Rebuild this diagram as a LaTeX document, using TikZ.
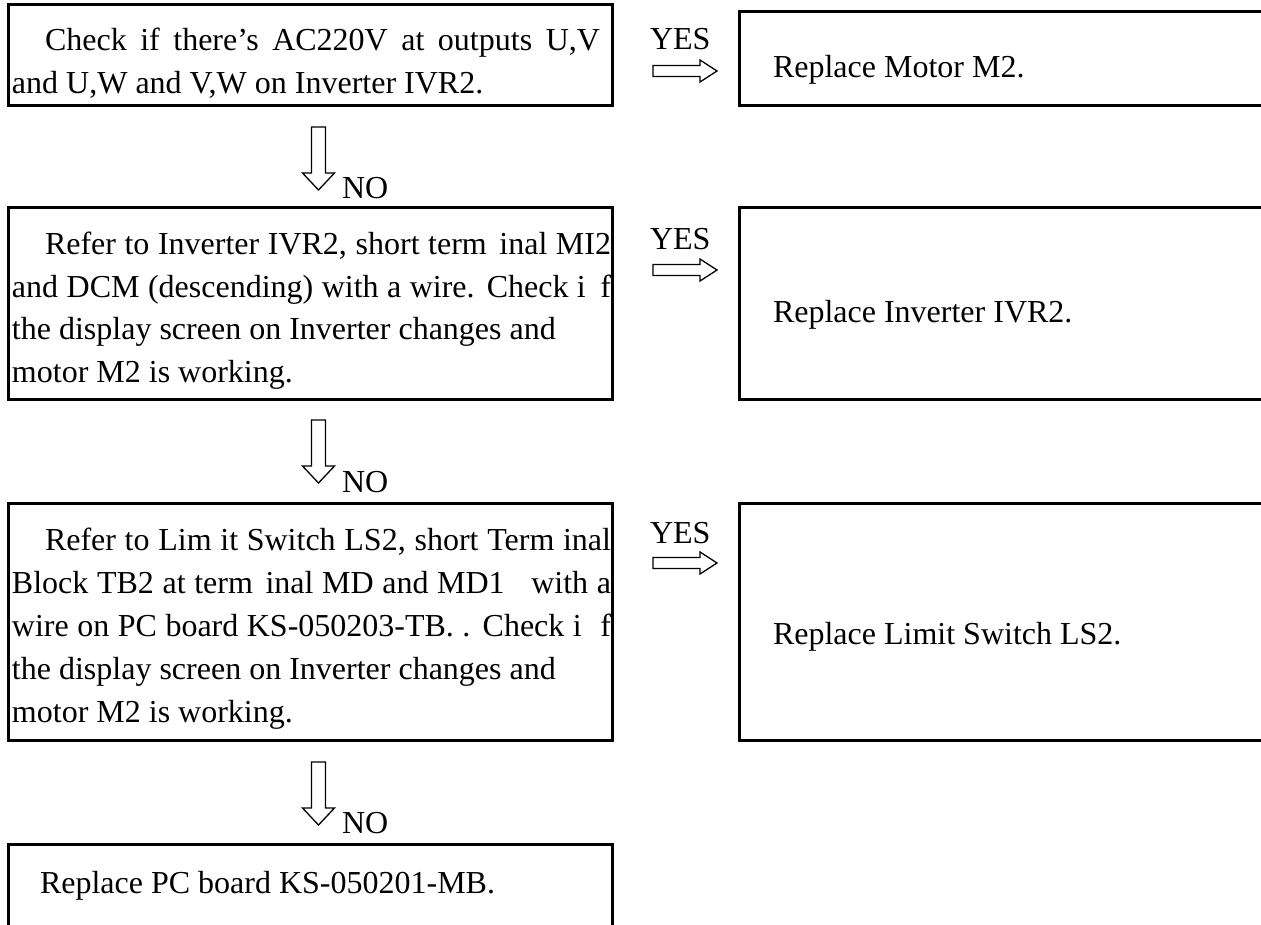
\documentclass[tikz,border=0pt]{standalone}
\usepackage{fontspec}
\setmainfont{Liberation Serif}
\begin{document}
\begin{tikzpicture}[x=1pt,y=-1pt,
  box/.style={draw, line width=3pt, inner sep=0pt, outer sep=0pt, anchor=north west},
  txt/.style={inner sep=0pt, outer sep=0pt, anchor=base west, font=\fontsize{32pt}{40pt}\selectfont},
  hollow/.style={draw, line width=1.3pt, fill=white, line join=miter}]
\useasboundingbox (0,0) rectangle (1261,925);
\clip (0,0) rectangle (1261,925);

% ---------- left column boxes ----------
\node[box, minimum width=604pt, minimum height=101pt] (b1) at (8.5,4.5) {};
\node[box, minimum width=604pt, minimum height=192pt] (b2) at (8.5,207.5) {};
\node[box, minimum width=604pt, minimum height=237pt] (b3) at (8.5,503.5) {};
\node[box, minimum width=604pt, minimum height=200pt] (b4) at (8.5,844.5) {};

% ---------- right column boxes ----------
\node[box, minimum width=600pt, minimum height=94pt] (r1) at (739.5,11.5) {};
\node[box, minimum width=600pt, minimum height=192pt] (r2) at (739.5,207.5) {};
\node[box, minimum width=600pt, minimum height=237pt] (r3) at (739.5,503.5) {};

% ---------- texts box 1 ----------
\node[txt] (b1l1) at (45,51) {\makebox[555pt][s]{Check if there’s AC220V at outputs U,V}};
\node[txt] (b1l2) at (12,94) {and U,W and V,W on Inverter IVR2.};
\node[txt] (r1t) at (773,78) {Replace Motor M2.};

% ---------- texts box 2 ----------
\node[txt] (b2l1) at (45,255) {\makebox[566pt][s]{Refer to Inverter IVR2, short term\hspace{4pt} inal MI2}};
\node[txt] (b2l2) at (12,297.5) {\makebox[599pt][s]{and DCM (descending) with a wire. Check i\hspace{6pt} f}};
\node[txt] (b2l3) at (12,340) {the display screen on Inverter changes and};
\node[txt] (b2l4) at (12,382.5) {motor M2 is working.};
\node[txt] (r2t) at (773,323) {Replace Inverter IVR2.};

% ---------- texts box 3 ----------
\node[txt] (b3l1) at (45,550) {\makebox[566pt][s]{Refer to Lim it Switch LS2, short Term inal}};
\node[txt] (b3l2) at (12,593) {\makebox[599pt][s]{Block TB2 at term\hspace{4pt} inal MD and MD1\hspace{18pt} with a}};
\node[txt] (b3l3) at (12,636) {\makebox[599pt][s]{wire on PC board KS-050203-TB. . Check i\hspace{10pt} f}};
\node[txt] (b3l4) at (12,679) {the display screen on Inverter changes and};
\node[txt] (b3l5) at (12,722) {motor M2 is working.};
\node[txt] (r3t) at (773,644) {Replace Limit Switch LS2.};

% ---------- text box 4 ----------
\node[txt] (b4l1) at (40,893) {Replace PC board KS-050201-MB.};

% ---------- YES arrows ----------
\node[txt] (yes1) at (650,50) {YES};
\node[txt] (yes2) at (650,250) {YES};
\node[txt] (yes3) at (650,543) {YES};
\coordinate (y1) at (717,71);
\coordinate (y2) at (717,270);
\coordinate (y3) at (717,563);
\foreach \c in {y1,y2,y3}{
  \draw[hollow] (\c) -- ++(-17,-11) -- ++(0,5.5) -- ++(-47,0) -- ++(0,11)
    -- ++(47,0) -- ++(0,5.5) -- cycle;
}

% ---------- NO arrows ----------
\coordinate (d1) at (318.5,190);
\coordinate (d2) at (318.5,483);
\coordinate (d3) at (318.5,825);
\foreach \c in {d1,d2,d3}{
  \draw[hollow] (\c) -- ++(-16,-17) -- ++(9,0) -- ++(0,-46) -- ++(14,0)
    -- ++(0,46) -- ++(9,0) -- cycle;
}
\node[txt] (no1) at (342,199) {NO};
\node[txt] (no2) at (342,492) {NO};
\node[txt] (no3) at (342,833) {NO};
\end{tikzpicture}
\end{document}
